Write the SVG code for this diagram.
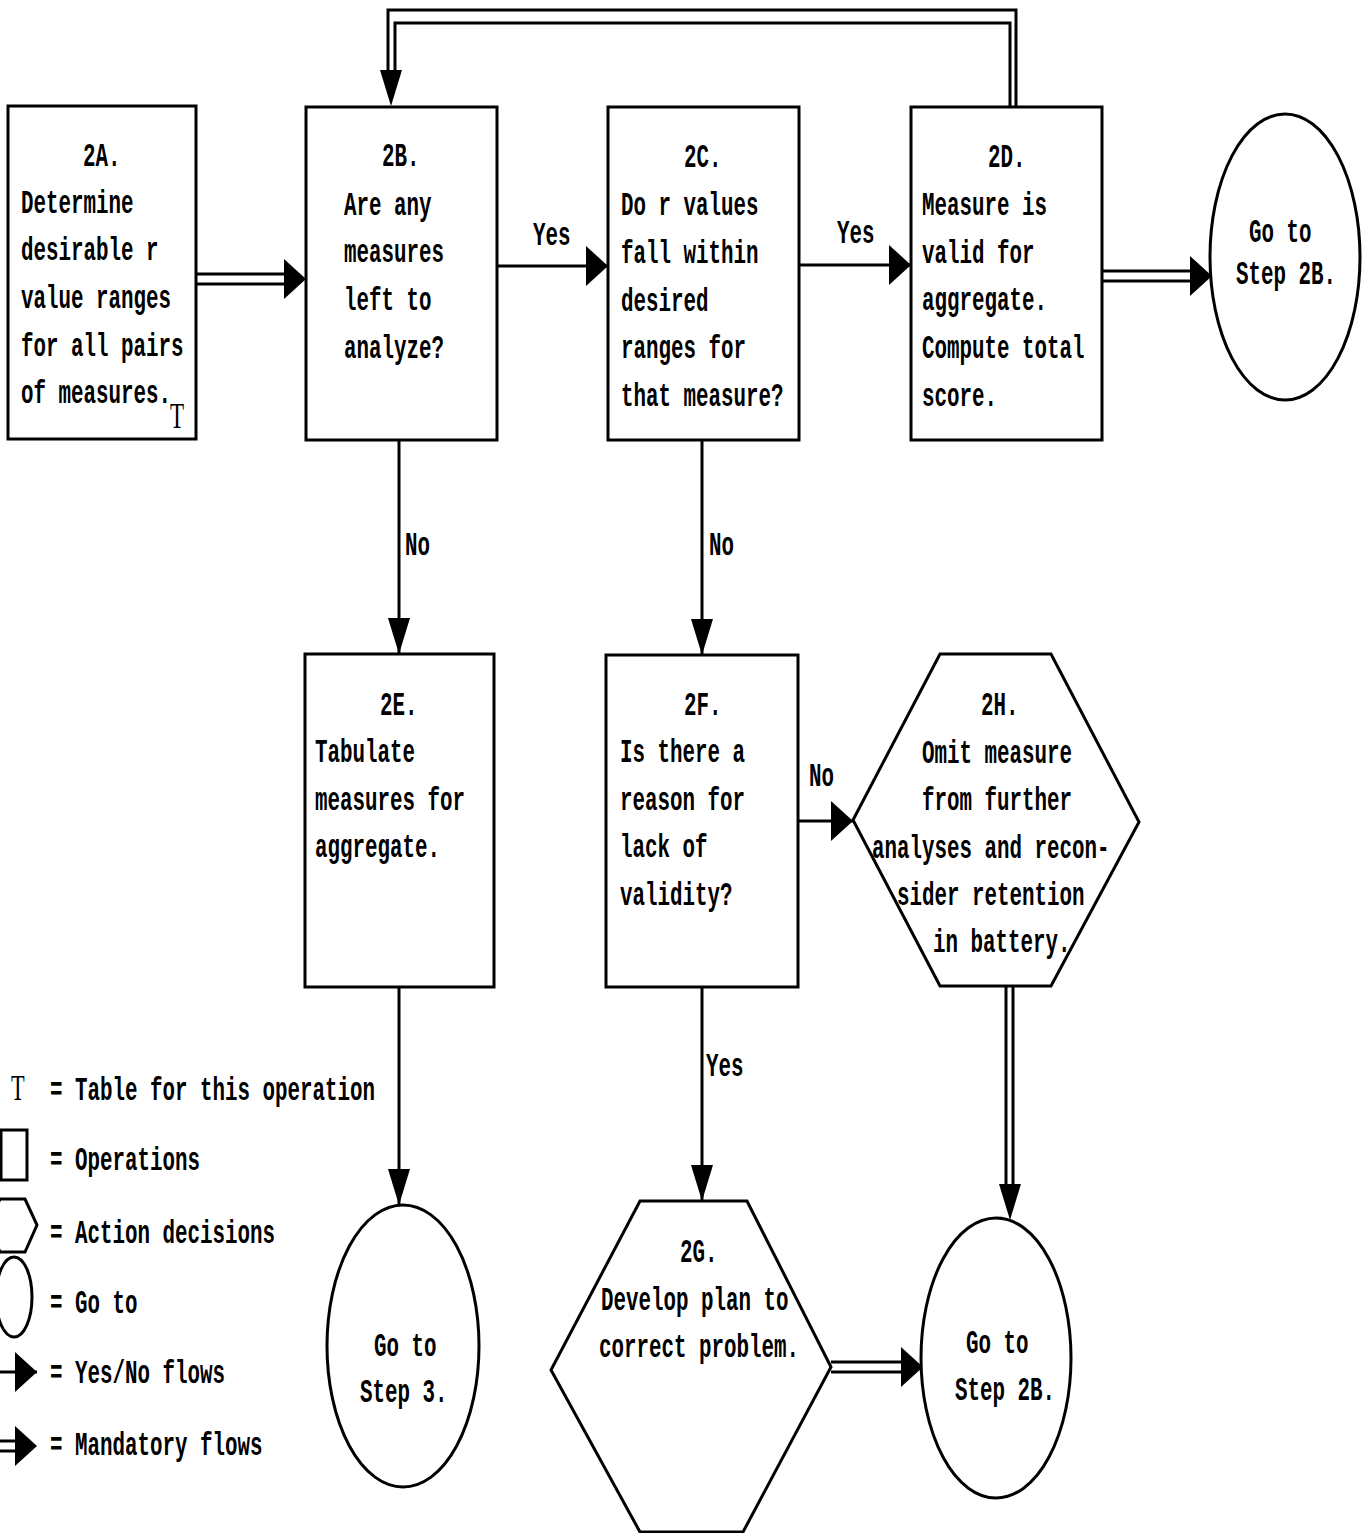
<svg xmlns="http://www.w3.org/2000/svg" width="1362" height="1533" viewBox="0 0 1362 1533">
<style>
.t{font-family:"Liberation Mono","Courier New",monospace;font-size:34px;font-weight:bold;fill:#000}
.s{font-family:"Liberation Serif","Times New Roman",serif;font-size:36px;fill:#000}
.box{fill:#fff;stroke:#000;stroke-width:3}
.ln{fill:none;stroke:#000;stroke-width:3}
.ah{marker-end:url(#ah)}
.av{marker-end:url(#av)}
</style>
<defs>
<marker id="ah" markerUnits="userSpaceOnUse" viewBox="0 0 22 40" markerWidth="22" markerHeight="40" refX="22" refY="20" orient="auto"><path d="M0,0 L22,20 L0,40 Z" fill="#000"/></marker>
<marker id="av" markerUnits="userSpaceOnUse" viewBox="0 0 36 22" markerWidth="36" markerHeight="22" refX="36" refY="11" orient="auto"><path d="M0,0 L36,11 L0,22 Z" fill="#000"/></marker>
<path id="headR" d="M0,-20 L22,0 L0,20 Z" fill="#000"/>
<path id="headD" d="M-11,0 L11,0 L0,36 Z" fill="#000"/>
</defs>
<rect width="1362" height="1533" fill="#fff"/>

<g id="connectors">
<path class="ln ah" d="M497,266 H608"/>
<path class="ln ah" d="M799,265 H911"/>
<path class="ln ah" d="M798,821 H853"/>
<path class="ln av" d="M399,440 V654"/>
<path class="ln av" d="M702,440 V655"/>
<path class="ln av" d="M399,987 V1205"/>
<path class="ln av" d="M702,987 V1201"/>
<g id="mandatory">
<path class="ln" d="M196,274 H286 M196,284 H286"/><use href="#headR" x="284" y="279"/>
<path class="ln" d="M1102,271 H1192 M1102,281 H1192"/><use href="#headR" x="1190" y="276"/>
<path class="ln" d="M831,1362 H903 M831,1372 H903"/><use href="#headR" x="901" y="1367"/>
<path class="ln" d="M1006,986 V1186 M1013,986 V1186"/><use href="#headD" x="1010" y="1184"/>
<path class="ln" d="M1016,107 V10 H388 V72 M1010,107 V23 H395 V72"/><use href="#headD" x="391" y="70"/>
</g>
<g id="labels">
<text class="t" transform="translate(533,245) scale(.6127,1)">Yes</text>
<text class="t" transform="translate(837,243) scale(.6127,1)">Yes</text>
<text class="t" transform="translate(405,555) scale(.6127,1)">No</text>
<text class="t" transform="translate(709,555) scale(.6127,1)">No</text>
<text class="t" transform="translate(809,786) scale(.6127,1)">No</text>
<text class="t" transform="translate(706,1076) scale(.6127,1)">Yes</text>
</g>
</g>

<g id="n2A">
<rect class="box" x="8" y="106" width="188" height="333"/>
<text class="t" transform="translate(83,166) scale(.6127,1)">2A.</text>
<text class="t" transform="translate(21,213) scale(.6127,1)">Determine</text>
<text class="t" transform="translate(21,260) scale(.6127,1)">desirable r</text>
<text class="t" transform="translate(21,308) scale(.6127,1)">value ranges</text>
<text class="t" transform="translate(21,356) scale(.6127,1)">for all pairs</text>
<text class="t" transform="translate(21,403) scale(.6127,1)">of measures.</text>
<text class="s" transform="translate(170,428) scale(.64,1)">T</text>
</g>

<g id="n2B">
<rect class="box" x="306" y="107" width="191" height="333"/>
<text class="t" transform="translate(382,166) scale(.6127,1)">2B.</text>
<text class="t" transform="translate(344,215) scale(.6127,1)">Are any</text>
<text class="t" transform="translate(344,262) scale(.6127,1)">measures</text>
<text class="t" transform="translate(344,310) scale(.6127,1)">left to</text>
<text class="t" transform="translate(344,358) scale(.6127,1)">analyze?</text>
</g>

<g id="n2C">
<rect class="box" x="608" y="107" width="191" height="333"/>
<text class="t" transform="translate(684,167) scale(.6127,1)">2C.</text>
<text class="t" transform="translate(621,215) scale(.6127,1)">Do r values</text>
<text class="t" transform="translate(621,263) scale(.6127,1)">fall within</text>
<text class="t" transform="translate(621,311) scale(.6127,1)">desired</text>
<text class="t" transform="translate(621,358) scale(.6127,1)">ranges for</text>
<text class="t" transform="translate(621,406) scale(.6127,1)">that measure?</text>
</g>

<g id="n2D">
<rect class="box" x="911" y="107" width="191" height="333"/>
<text class="t" transform="translate(988,167) scale(.6127,1)">2D.</text>
<text class="t" transform="translate(922,215) scale(.6127,1)">Measure is</text>
<text class="t" transform="translate(922,263) scale(.6127,1)">valid for</text>
<text class="t" transform="translate(922,310) scale(.6127,1)">aggregate.</text>
<text class="t" transform="translate(922,358) scale(.6127,1)">Compute total</text>
<text class="t" transform="translate(922,406) scale(.6127,1)">score.</text>
</g>

<g id="goto2B_top">
<ellipse class="box" cx="1285" cy="257" rx="75" ry="143"/>
<text class="t" transform="translate(1249,242) scale(.6127,1)">Go to</text>
<text class="t" transform="translate(1236,284) scale(.6127,1)">Step 2B.</text>
</g>

<g id="n2E">
<rect class="box" x="305" y="654" width="189" height="333"/>
<text class="t" transform="translate(380,715) scale(.6127,1)">2E.</text>
<text class="t" transform="translate(315,762) scale(.6127,1)">Tabulate</text>
<text class="t" transform="translate(315,810) scale(.6127,1)">measures for</text>
<text class="t" transform="translate(315,857) scale(.6127,1)">aggregate.</text>
</g>

<g id="n2F">
<rect class="box" x="606" y="655" width="192" height="332"/>
<text class="t" transform="translate(684,715) scale(.6127,1)">2F.</text>
<text class="t" transform="translate(620,762) scale(.6127,1)">Is there a</text>
<text class="t" transform="translate(620,810) scale(.6127,1)">reason for</text>
<text class="t" transform="translate(620,857) scale(.6127,1)">lack of</text>
<text class="t" transform="translate(620,905) scale(.6127,1)">validity?</text>
</g>

<g id="n2H">
<polygon class="box" points="940,654 1051,654 1139,822 1051,986 940,986 853,820"/>
<text class="t" transform="translate(981,715) scale(.6127,1)">2H.</text>
<text class="t" transform="translate(922,763) scale(.6127,1)">Omit measure</text>
<text class="t" transform="translate(922,810) scale(.6127,1)">from further</text>
<text class="t" transform="translate(872,858) scale(.6127,1)">analyses and recon-</text>
<text class="t" transform="translate(897,905) scale(.6127,1)">sider retention</text>
<text class="t" transform="translate(933,952) scale(.6127,1)">in battery.</text>
</g>

<g id="goto3">
<ellipse class="box" cx="403" cy="1346" rx="76" ry="141"/>
<text class="t" transform="translate(374,1356) scale(.6127,1)">Go to</text>
<text class="t" transform="translate(360,1402) scale(.6127,1)">Step 3.</text>
</g>

<g id="n2G">
<polygon class="box" points="640,1201 747,1201 831,1367 743,1532 640,1532 551,1370"/>
<text class="t" transform="translate(680,1262) scale(.6127,1)">2G.</text>
<text class="t" transform="translate(601,1310) scale(.6127,1)">Develop plan to</text>
<text class="t" transform="translate(599,1357) scale(.6127,1)">correct problem.</text>
</g>

<g id="goto2B_bottom">
<ellipse class="box" cx="996" cy="1358" rx="75" ry="140"/>
<text class="t" transform="translate(966,1353) scale(.6127,1)">Go to</text>
<text class="t" transform="translate(955,1400) scale(.6127,1)">Step 2B.</text>
</g>

<g id="legend">
<text class="s" transform="translate(11,1100) scale(.62,1)" font-size="38">T</text>
<text class="t" transform="translate(50,1100) scale(.6127,1)">= Table for this operation</text>
<rect class="box" x="1" y="1130" width="26" height="50"/>
<text class="t" transform="translate(50,1170) scale(.6127,1)">= Operations</text>
<polygon class="box" points="-12,1225 0,1199 25,1199 37,1225 25,1252 0,1252"/>
<text class="t" transform="translate(50,1243) scale(.6127,1)">= Action decisions</text>
<ellipse class="box" cx="14" cy="1297" rx="18" ry="40"/>
<text class="t" transform="translate(50,1313) scale(.6127,1)">= Go to</text>
<path class="ln ah" d="M0,1372 H37"/>
<text class="t" transform="translate(50,1383) scale(.6127,1)">= Yes/No flows</text>
<path class="ln" d="M0,1441 H17 M0,1451 H17"/><use href="#headR" x="15" y="1446"/>
<text class="t" transform="translate(50,1455) scale(.6127,1)">= Mandatory flows</text>
</g>
</svg>
